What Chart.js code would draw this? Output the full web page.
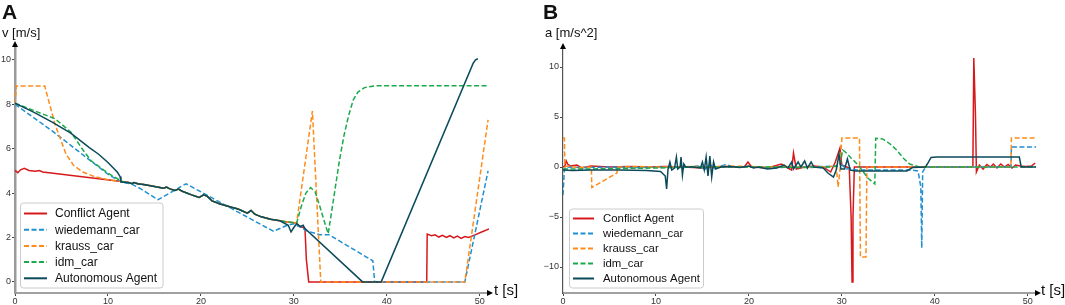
<!DOCTYPE html>
<html lang="en">
<head>
<meta charset="utf-8">
<title>speed and acceleration</title>
<script src="https://cdn.jsdelivr.net/npm/chart.js@4.4.1/dist/chart.umd.min.js"></script>
<style>
body {margin: 0; background: #fff; font-family: "Liberation Sans", Arial, sans-serif;}
#wrap {position: relative; width: 1065px; height: 305px; overflow: hidden;}
canvas {position: absolute; top: 0;}
.lbl {position: absolute; color: #111; white-space: nowrap; line-height: 1;}
.big {font-weight: bold; font-size: 21px;}
.ax {font-size: 13px;}
.tx {font-size: 15px;}
</style>
</head>
<body>
<div id="wrap">
	<canvas id="chartA" width="530" height="305" style="left:0"></canvas>
	<canvas id="chartB" width="535" height="305" style="left:530px"></canvas>
	<div class="lbl big" style="left:2px;top:1px">A</div>
	<div class="lbl ax" style="left:2px;top:26px">v [m/s]</div>
	<div class="lbl tx" style="left:494px;top:282px">t [s]</div>
	<div class="lbl big" style="left:543px;top:1px">B</div>
	<div class="lbl ax" style="left:545px;top:26px">a [m/s^2]</div>
	<div class="lbl tx" style="left:1041px;top:282px">t [s]</div>
</div>
<script>
// --- data (t in s) ---
var labels = ['Conflict Agent', 'wiedemann_car', 'krauss_car', 'idm_car', 'Autonomous Agent'];
var couleurs = ['#d7191c', '#1f8fd0', '#ff8c1a', '#1aaa4a', '#0b4a5a'];
var pointilles = [false, true, true, true, false];

var xTicks = [0, 10, 20, 30, 40, 50];
var yTicksA = [0, 2, 4, 6, 8, 10];
var yTicksB = [-10, -5, 0, 5, 10];

// speed part that all cars share between t=11.5 and t=30.3
var sharedA = [[11.5,4.52],[12.2,4.48],[12.6,4.42],[12.8,4.47],[13.2,4.42],[14,4.38],[15,4.3],[16,4.22],[16.3,4.27],[16.6,4.2],[17.2,4.12],[17.6,4.18],[18,4.08],[19,3.92],[19.8,3.8],[20.3,3.92],[20.7,3.85],[21.2,3.65],[22,3.52],[23,3.4],[24,3.28],[25,3.1],[25.4,3.22],[25.8,3.05],[26.5,2.93],[27.5,2.82],[28.5,2.75],[29.3,2.7],[30.3,2.65]];

var conflictV = [[0,5.02],[0.3,4.92],[0.6,5.05],[1,5.12],[1.5,5.02],[2.2,4.98],[2.6,5.02],[3,4.95],[5,4.85],[7,4.75],[9,4.65],[11.5,4.52]]
	.concat(sharedA.slice(1))
	.concat([[30.6,2.5],[31,2.45],[31.2,2.4],[31.35,1.0],[31.6,0],[44.3,0],[44.35,2.15],[44.8,2.08],[45.2,2.12],[45.6,2.02],[46,2.1],[46.4,2.0],[46.8,2.08],[47.2,1.98],[47.6,2.06],[48,1.96],[48.4,2.04],[48.8,2.0],[49.5,2.12],[50.2,2.25],[51,2.38]]);
var wiedemannV = [[0,8.0],[2,7.4],[4,6.8],[6,6.15],[8,5.5],[10,4.85],[11.5,4.48],[12.5,4.42],[13.5,4.2],[15.4,3.7],[18.4,4.42],[27.8,2.28],[29.3,2.55],[30,2.62],[30.8,2.45],[31.4,2.3],[32.8,2.12],[33.8,2.12],[38.5,0.95],[38.7,0],[48.4,0],[50.9,5.0]];
var kraussV = [[0,8.0],[0.15,8.82],[3.2,8.82],[4.3,7.1],[5.5,5.75],[6.3,5.25],[7.3,4.95],[8.5,4.75],[10,4.6]]
	.concat(sharedA)
	.concat([[32.0,7.7],[32.9,0],[48.4,0],[50.9,7.3]]);
var idmV = [[0,8.05],[2,7.72],[4.3,7.35],[6,6.75],[7.3,5.95],[8.2,5.45],[10,4.9]]
	.concat(sharedA)
	.concat([[30.8,3.4],[31.3,4.0],[31.8,4.25],[32.3,4.05],[32.8,3.4],[33.3,2.7],[33.7,2.17],[34.3,3.8],[34.9,5.45],[35.4,6.6],[35.9,7.5],[36.4,8.2],[36.9,8.55],[37.6,8.75],[38.7,8.83],[51,8.83]]);
var autoV = [[0,8.05],[2,7.65],[4,7.2],[6,6.7],[8,6.05],[9,5.75],[10,5.38],[11,4.95],[11.3,4.75],[11.4,4.5]]
	.concat(sharedA.slice(1, -2))
	.concat([[29.4,2.55],[29.7,2.25],[30,2.45],[30.3,2.62],[30.7,2.5],[31,2.55],[31.2,2.4],[37.4,0],[39.4,0],[49.3,9.85],[49.55,10.0],[49.8,10.05]]);

var conflictA = [[0,0],[0.2,0.1],[0.35,0.6],[0.5,0.3],[0.8,0.1],[1.5,0.2],[2,-0.1],[3,0.1],[5,0],[7,0.05],[9,0],[11,0.05],[13,0],[15,-0.1],[17,0.05],[19.5,0],[19.9,0.5],[20.3,0],[22,-0.1],[23.5,0.3],[24,0],[24.6,-0.3],[24.8,1.4],[25.1,-0.2],[26,0],[27,0.1],[28,0],[28.8,-0.5],[29.3,0.5],[29.8,1.9],[30,0.2],[30.8,-0.1],[31.0,-5],[31.1,-11.5],[31.2,-5],[31.35,0],[44.1,0],[44.2,10.9],[44.38,5.2],[44.48,-0.5],[44.8,0.2],[45.2,-0.2],[45.6,0.25],[46,0],[46.3,0.3],[46.7,-0.1],[47.1,0.3],[47.5,0],[47.9,0.25],[48.3,-0.1],[48.7,0.2],[49.2,0.1],[49.8,0.05],[50.4,0.1],[50.8,0.4]];
var wiedemannA = [[0,-2.8],[0.15,-0.3],[0.3,0],[2,-0.05],[5,0],[8,-0.05],[11,0],[13,-0.05],[14.5,0.1],[15.3,-0.2],[15.8,0.25],[16.3,-0.1],[17,0.1],[17.6,0.25],[18.2,0],[20,0],[23,-0.05],[26,0],[28,0.05],[29.5,0.1],[30,0.2],[30.5,-0.2],[31,-0.1],[31.5,-0.3],[37.5,-0.3],[38.2,-0.4],[38.5,-2],[38.6,-8.1],[38.7,-0.5],[39,0],[48.2,0],[48.25,2.0],[50.9,2.0]];
var kraussA = [[0,2.9],[0.15,2.9],[0.2,0],[0.5,0.1],[1.5,-0.05],[3.05,0],[3.1,-2.05],[5.8,-0.6],[5.9,0],[8,0.05],[10,0],[12,0],[14,0.05],[16,0],[18,0.1],[20,0.05],[22,0],[24,0.05],[26,0],[28,0],[29.4,0.1],[29.6,-2.0],[29.8,-0.3],[30.0,2.9],[31.9,2.9],[32.0,-9.0],[32.6,-9.0],[32.7,0],[48.2,0],[48.25,2.9],[50.9,2.9]];
var idmA = [[0,-0.2],[3,-0.2],[6,-0.15],[10,-0.1],[14,0],[18,0],[22,0],[26,-0.05],[29,0],[29.8,0.2],[30.1,1.7],[30.5,1.4],[31.0,0.9],[31.6,0.35],[32.2,-0.35],[32.8,-1.1],[33.3,-1.5],[33.55,-1.7],[33.65,2.87],[34.4,2.8],[35.2,2.3],[35.9,1.7],[36.6,0.9],[37.3,0.3],[38.2,0.05],[39,0],[50.9,0]];
var autoA = [[0,-0.3],[1,-0.35],[3,-0.3],[6,-0.3],[9,-0.35],[10.5,-0.45],[11,-0.9],[11.15,-2.2],[11.3,-0.2],[11.5,0.5],[11.7,-0.3],[12.0,-0.1],[12.2,1.0],[12.35,-0.2],[12.6,0],[12.7,1.0],[12.85,-0.8],[13.0,0.3],[13.2,0],[14,0],[14.8,-0.1],[15.0,0.5],[15.2,-0.3],[15.4,1.0],[15.6,-0.9],[15.8,1.1],[16.0,-1.0],[16.2,0.5],[16.4,-0.2],[17,0],[18,0.05],[19,-0.05],[20,0.1],[20.5,-0.1],[21,0],[22,-0.2],[23,-0.1],[23.8,0.2],[24.2,-0.1],[24.6,0.5],[24.8,-0.2],[25.3,0.5],[25.6,0],[26,0.6],[26.3,-0.1],[26.7,0.5],[27,0],[28,-0.1],[28.5,-0.6],[29.1,-1.0],[29.4,-0.3],[29.7,1.3],[29.9,-0.2],[30.3,-0.2],[30.6,0.8],[30.9,-0.3],[31.5,-0.4],[37,-0.4],[37.6,-0.05],[39,0],[39.2,0.3],[39.6,0.95],[40.2,1.0],[49.1,1.0],[49.3,0],[50.9,0]];

function jeux(series) {
	var res = [];
	for (var i = 0; i < series.length; i++) {
		res.push({
			label: labels[i],
			data: series[i].map(function (p) { return {x: p[0], y: p[1]}; }),
			borderColor: couleurs[i],
			backgroundColor: couleurs[i],
			borderWidth: 1.5,
			borderDash: pointilles[i] ? [5, 2.5] : [],
			pointRadius: 0,
			tension: 0,
			order: series.length - 1 - i
		});
	}
	return res;
}

// legend box drawn inside the plot + arrow heads on the axes
var decor = {
	id: 'decor',
	afterDraw: function (chart, args, o) {
		var c = chart.ctx, a = chart.chartArea;
		c.save();
		c.fillStyle = '#000';
		c.beginPath();
		c.moveTo(a.left, a.top - 4); c.lineTo(a.left - 3, a.top + 2); c.lineTo(a.left + 3, a.top + 2);
		c.closePath(); c.fill();
		c.beginPath();
		c.moveTo(a.right + 4, a.bottom); c.lineTo(a.right - 2, a.bottom - 3); c.lineTo(a.right - 2, a.bottom + 3);
		c.closePath(); c.fill();

		// legend
		c.beginPath();
		c.roundRect(o.x, o.y, o.w, o.h, 3);
		c.fillStyle = 'rgba(255,255,255,0.85)';
		c.fill();
		c.strokeStyle = '#cccccc';
		c.lineWidth = 1;
		c.stroke();
		c.font = o.font + 'px "Liberation Sans", Arial, sans-serif';
		c.textBaseline = 'middle';
		chart.data.datasets.forEach(function (ds, i) {
			var y = o.y0 + i * o.gap;
			c.beginPath();
			c.setLineDash(ds.borderDash);
			c.strokeStyle = ds.borderColor;
			c.lineWidth = 2;
			c.moveTo(o.l0, y); c.lineTo(o.l1, y);
			c.stroke();
			c.setLineDash([]);
			c.fillStyle = '#111';
			c.fillText(ds.label, o.tx, y + 0.5);
		});
		c.restore();
	}
};

function options(yMin, yMax, yTicks, yWidth, border, legend, pad) {
	return {
		responsive: false,
		animation: false,
		layout: {padding: pad},
		plugins: {legend: {display: false}, tooltip: {enabled: false}, decor: legend},
		scales: {
			x: {
				type: 'linear', min: 0, max: 51,
				afterBuildTicks: function (s) { s.ticks = xTicks.map(function (v) { return {value: v}; }); },
				afterFit: function (s) { s.height = 12; },
				grid: {drawOnChartArea: false, tickLength: 3, color: '#444'},
				border: {color: '#a0a0a0', width: 2},
				ticks: {font: {family: 'Liberation Sans', size: 9}, color: '#333', padding: 0, maxRotation: 0}
			},
			y: {
				type: 'linear', min: yMin, max: yMax,
				afterBuildTicks: function (s) { s.ticks = yTicks.map(function (v) { return {value: v}; }); },
				afterFit: function (s) { s.width = yWidth; },
				grid: {drawOnChartArea: false, tickLength: 3, color: '#444'},
				border: border,
				ticks: {
					font: {family: 'Liberation Sans', size: 9}, color: '#333', padding: 1,
					callback: function (v) { return String(v).replace('-', '\u2212'); }
				}
			}
		}
	};
}

new Chart(document.getElementById('chartA'), {
	type: 'line',
	data: {datasets: jeux([conflictV, wiedemannV, kraussV, idmV, autoV])},
	options: options(-0.5, 10.67, yTicksA, 15, {color: '#9a9a9a', width: 2.5},
		{x: 20.5, y: 203, w: 142.5, h: 85, y0: 213.5, gap: 16.2, l0: 24, l1: 47, tx: 55, font: 12},
		{top: 45, right: 41, left: 0, bottom: 0}),
	plugins: [decor]
});

new Chart(document.getElementById('chartB'), {
	type: 'line',
	data: {datasets: jeux([conflictA, wiedemannA, kraussA, idmA, autoA])},
	options: options(-12.6, 12.0, yTicksB, 33, {color: '#555', width: 1.2},
		{x: 39.5, y: 209, w: 134, h: 79, y0: 218.5, gap: 15, l0: 43, l1: 64, tx: 73, font: 11.4},
		{top: 47, right: 28, left: 0, bottom: 0}),
	plugins: [decor]
});
</script>
</body>
</html>
